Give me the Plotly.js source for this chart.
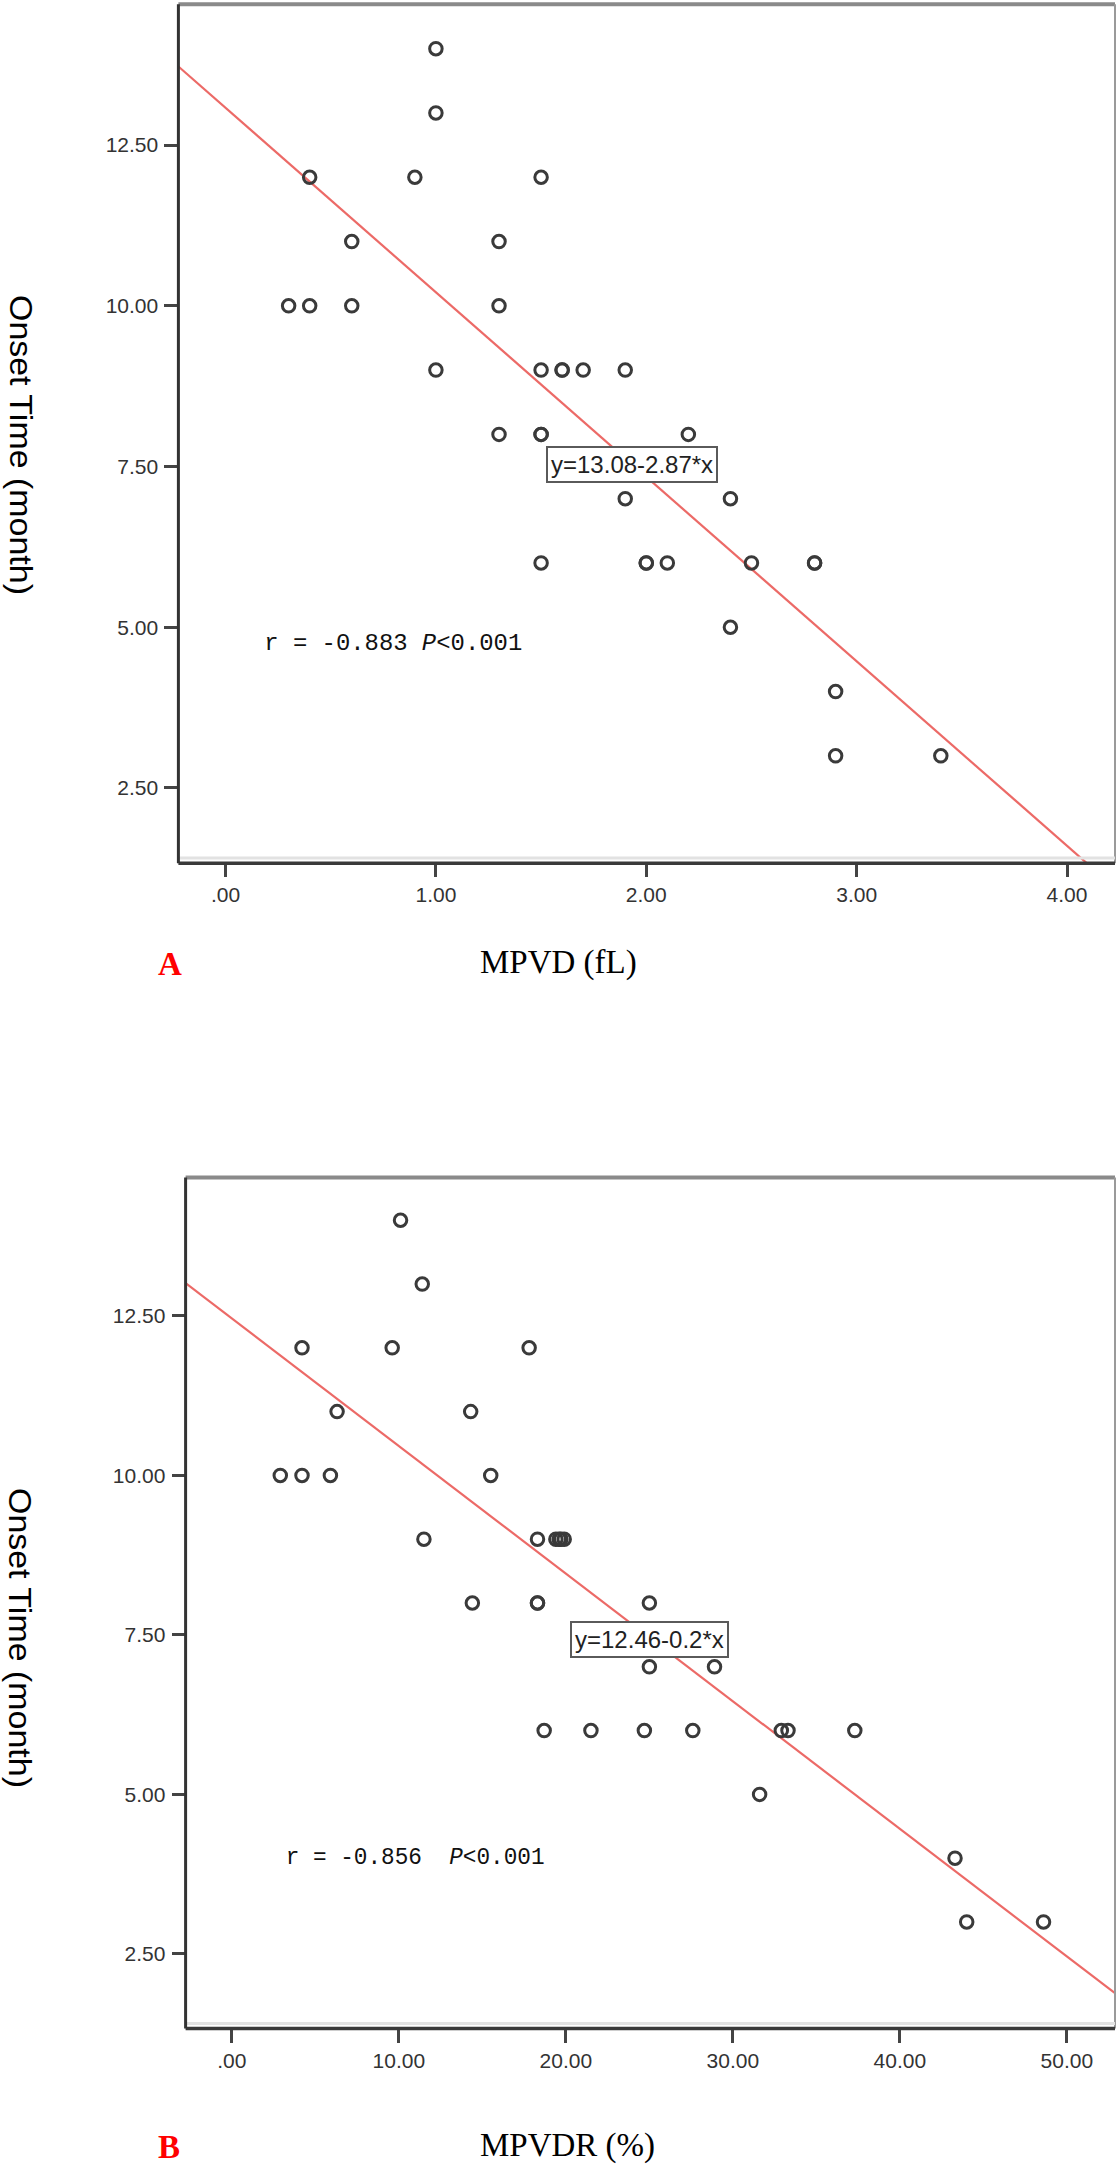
<!DOCTYPE html>
<html>
<head>
<meta charset="utf-8">
<script src="https://cdn.plot.ly/plotly-3.0.1.min.js"></script>
<style>
  html, body { margin: 0; padding: 0; background: #fff; }
  #chart { width: 1119px; height: 2167px; }
</style>
</head>
<body>
<div id="chart"></div>
<script>
// ---------- Data ----------
// Panel A: MPVD (fL) vs onset time (month)
const mpvdA = [1.0, 1.0, 0.4, 0.9, 1.5, 0.6, 1.3, 0.3, 0.4, 0.6, 1.3,
               1.0, 1.5, 1.6, 1.6, 1.7, 1.9, 1.3, 1.5, 1.5, 2.2,
               1.9, 2.4, 1.5, 2.0, 2.0, 2.1, 2.5, 2.8, 2.8, 2.4, 2.9, 2.9, 3.4];
const onsetA = [14, 13, 12, 12, 12, 11, 11, 10, 10, 10, 10,
                9, 9, 9, 9, 9, 9, 8, 8, 8, 8,
                7, 7, 6, 6, 6, 6, 6, 6, 6, 5, 4, 3, 3];
// Panel B: MPVDR (%) vs onset time (month)
const mpvdrB = [10.1, 11.4, 4.2, 9.6, 17.8, 6.3, 14.3, 2.9, 4.2, 5.9, 15.5,
                11.5, 18.3, 19.4, 19.6, 19.7, 19.9, 14.4, 18.3, 18.3, 25.0,
                25.0, 28.9, 18.7, 21.5, 24.7, 27.6, 32.9, 33.3, 37.3, 31.6, 43.3, 44.0, 48.6];
const onsetB = [14, 13, 12, 12, 12, 11, 11, 10, 10, 10, 10,
                9, 9, 9, 9, 9, 9, 8, 8, 8, 8,
                7, 7, 6, 6, 6, 6, 6, 6, 6, 5, 4, 3, 3];

// Fit lines (intercept, slope) as printed on the chart
const fitA = [13.08, -2.87];
const fitB = [12.46, -0.2];

// Tick values / labels
const xTickValsA = [0, 1, 2, 3, 4];
const xTickTextA = ['.00', '1.00', '2.00', '3.00', '4.00'];
const xTickValsB = [0, 10, 20, 30, 40, 50];
const xTickTextB = ['.00', '10.00', '20.00', '30.00', '40.00', '50.00'];
const yTickVals = [2.5, 5, 7.5, 10, 12.5];
const yTickText = ['2.50', '5.00', '7.50', '10.00', '12.50'];

// Text
const yTitle = 'Onset Time (month)';
const xTitleA = 'MPVD (fL)';
const xTitleB = 'MPVDR (%)';
const eqA = 'y=13.08-2.87*x';
const eqB = 'y=12.46-0.2*x';
const statA = 'r = -0.883 <i>P</i>&lt;0.001';
const statB = 'r = -0.856&#160; <i>P</i>&lt;0.001';

// ---------- Layout geometry ----------
const W = 1119, H = 2167;
const rangeXA = [-0.224, 4.228], rangeYA = [1.33, 14.69];
const rangeXB = [-2.77, 52.88], rangeYB = [1.33, 14.67];

function fitLine(fit, range) {
  return { x: range.slice(), y: range.map(v => fit[0] + fit[1] * v) };
}
const lineA = fitLine(fitA, rangeXA);
const lineB = fitLine(fitB, rangeXB);

const markerStyle = { symbol: 'circle-open', size: 12.5, color: '#3a3a3a', line: { width: 3, color: '#3a3a3a' } };
const fitStyle = { color: '#ec6a67', width: 2.2 };

const traces = [
  { type: 'scatter', mode: 'lines', x: lineA.x, y: lineA.y, xaxis: 'x', yaxis: 'y', line: fitStyle, hoverinfo: 'skip' },
  { type: 'scatter', mode: 'markers', x: mpvdA, y: onsetA, xaxis: 'x', yaxis: 'y', marker: markerStyle, cliponaxis: false },
  { type: 'scatter', mode: 'lines', x: lineB.x, y: lineB.y, xaxis: 'x2', yaxis: 'y2', line: fitStyle, hoverinfo: 'skip' },
  { type: 'scatter', mode: 'markers', x: mpvdrB, y: onsetB, xaxis: 'x2', yaxis: 'y2', marker: markerStyle, cliponaxis: false }
];

const tickFont = { family: '"Liberation Sans", Arial, sans-serif', size: 21, color: '#333' };
function xAxis(range, vals, text, domain, anchor) {
  return { range: range, domain: domain, anchor: anchor, tickmode: 'array', tickvals: vals, ticktext: text,
           ticks: 'outside', ticklen: 13, tickwidth: 3, tickcolor: '#444', showgrid: false, zeroline: false,
           showline: false, tickfont: tickFont, fixedrange: true };
}
function yAxis(range, domain, anchor) {
  return { range: range, domain: domain, anchor: anchor, tickmode: 'array', tickvals: yTickVals, ticktext: yTickText,
           ticks: 'outside', ticklen: 13, tickwidth: 3, tickcolor: '#444', showgrid: false, zeroline: false,
           showline: false, tickfont: tickFont, fixedrange: true, ticklabelstandoff: 2 };
}

const domXA = [178.4 / W, 1115 / W], domYA = [1 - 863.2 / H, 1 - 4.3 / H];
const domXB = [185.6 / W, 1115 / W], domYB = [1 - 2028.5 / H, 1 - 1177.5 / H];

function frame(xr, yr) {
  const base = { type: 'line', xref: xr + ' domain', yref: yr + ' domain', layer: 'above' };
  return [
    Object.assign({}, base, { x0: 0, x1: 1, y0: 1, y1: 1, line: { color: '#8a8a8a', width: 4 } }),
    Object.assign({}, base, { x0: 1, x1: 1, y0: 0, y1: 1, line: { color: '#9a9a9a', width: 2 } }),
    Object.assign({}, base, { x0: 0, x1: 1, y0: 0.006, y1: 0.006, line: { color: '#e2e2e2', width: 3 } }),
    Object.assign({}, base, { x0: 0, x1: 1, y0: 0, y1: 0, line: { color: '#3a3a3a', width: 3.5 } }),
    Object.assign({}, base, { x0: 0, x1: 0, y0: 0, y1: 1, line: { color: '#333', width: 3 } })
  ];
}

const sansTitle = { family: '"Liberation Sans", Arial, sans-serif', size: 31, color: '#000' };
const serifTitle = { family: '"Liberation Serif", "Times New Roman", serif', size: 33, color: '#000' };
const panelFont = { family: '"Liberation Serif", "Times New Roman", serif', size: 33, color: '#ff0000' };
const eqFont = { family: '"Liberation Sans", Arial, sans-serif', size: 24, color: '#222' };
const statFont = { family: '"Liberation Mono", "DejaVu Sans Mono", monospace', size: 23, color: '#111' };

const annotations = [
  // y titles (read top to bottom)
  { text: yTitle, xref: 'paper', yref: 'paper', x: 20 / W, y: 1 - 445 / H, xanchor: 'center', yanchor: 'middle', textangle: 90, showarrow: false, font: sansTitle },
  { text: yTitle, xref: 'paper', yref: 'paper', x: 20 / W, y: 1 - 1638 / H, xanchor: 'center', yanchor: 'middle', textangle: 90, showarrow: false, font: sansTitle },
  // x titles
  { text: xTitleA, xref: 'paper', yref: 'paper', x: 558 / W, y: 1 - 962 / H, xanchor: 'center', yanchor: 'middle', showarrow: false, font: serifTitle },
  { text: xTitleB, xref: 'paper', yref: 'paper', x: 567 / W, y: 1 - 2145 / H, xanchor: 'center', yanchor: 'middle', showarrow: false, font: serifTitle },
  // panel letters
  { text: '<b>A</b>', xref: 'paper', yref: 'paper', x: 170 / W, y: 1 - 964 / H, xanchor: 'center', yanchor: 'middle', showarrow: false, font: panelFont },
  { text: '<b>B</b>', xref: 'paper', yref: 'paper', x: 169 / W, y: 1 - 2147 / H, xanchor: 'center', yanchor: 'middle', showarrow: false, font: panelFont },
  // regression equations
  { text: eqA, xref: 'x', yref: 'y', x: 1.932, y: 7.53, xanchor: 'center', yanchor: 'middle', showarrow: false, font: eqFont,
    bgcolor: '#fff', bordercolor: '#5a5a5a', borderwidth: 2, borderpad: 3 },
  { text: eqB, xref: 'x2', yref: 'y2', x: 25.02, y: 7.43, xanchor: 'center', yanchor: 'middle', showarrow: false, font: eqFont,
    bgcolor: '#fff', bordercolor: '#5a5a5a', borderwidth: 2, borderpad: 3 },
  // correlation statistics
  { text: statA, xref: 'x', yref: 'y', x: 0.794, y: 4.74, xanchor: 'center', yanchor: 'middle', showarrow: false, font: statFont },
  { text: statB, xref: 'x2', yref: 'y2', x: 10.96, y: 4.01, xanchor: 'center', yanchor: 'middle', showarrow: false, font: statFont }
];

const layout = {
  width: W, height: H, autosize: false,
  margin: { l: 0, r: 0, t: 0, b: 0 },
  paper_bgcolor: '#fff', plot_bgcolor: '#fff',
  showlegend: false,
  xaxis: xAxis(rangeXA, xTickValsA, xTickTextA, domXA, 'y'),
  yaxis: yAxis(rangeYA, domYA, 'x'),
  xaxis2: xAxis(rangeXB, xTickValsB, xTickTextB, domXB, 'y2'),
  yaxis2: yAxis(rangeYB, domYB, 'x2'),
  shapes: frame('x', 'y').concat(frame('x2', 'y2')),
  annotations: annotations
};

Plotly.newPlot('chart', traces, layout, { staticPlot: true, displayModeBar: false }).then(function () {
  // stretch some texts along their reading direction to match the reference proportions
  const targets = [
    { test: t => t.indexOf('Onset Time') === 0, len: 300 },
    { test: t => t.indexOf('r = -0.883') === 0, len: 258 },
    { test: t => t.indexOf('r = -0.856') === 0, len: 259 }
  ];
  document.querySelectorAll('.annotation-text').forEach(function (el) {
    const t = el.textContent;
    targets.forEach(function (g) {
      if (g.test(t)) {
        el.setAttribute('textLength', g.len);
        el.setAttribute('lengthAdjust', 'spacingAndGlyphs');
      }
    });
  });
});
</script>
</body>
</html>
